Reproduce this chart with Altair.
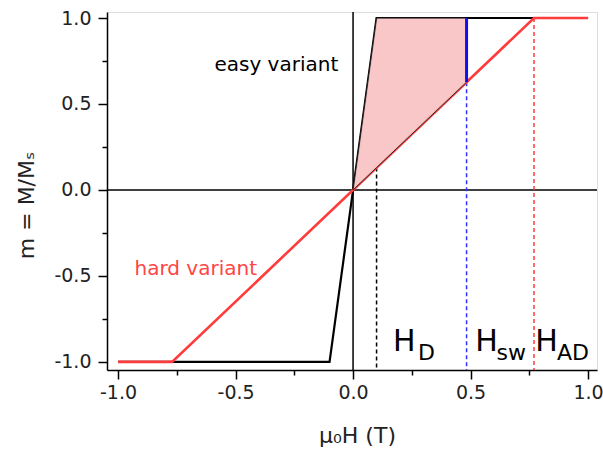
import altair as alt
import pandas as pd

# ---- data ----
tick_values = [-1.0, -0.75, -0.5, -0.25, 0.0, 0.25, 0.5, 0.75, 1.0]
x_domain = [-1.047, 1.038]
y_domain = [-1.047, 1.035]

easy_x = [-1.0, -0.1, 0.1, 1.0]
easy_y = [-1.0, -1.0, 1.0, 1.0]
hard_x = [-1.0, -0.77, 0.77, 1.0]
hard_y = [-1.0, -1.0, 1.0, 1.0]

shade_x = [0.0, 0.1, 0.483]
shade_top = [0.0, 1.0, 1.0]
shade_bottom = [0.0, 0.13, 0.627]

marker_x = [0.1, 0.483, 0.77]
marker_top = [0.13, 0.627, 1.0]
marker_name = ["D", "sw", "AD"]
marker_color = ["#000000", "#3030ff", "#ff3b3b"]

sw_x = [0.483]
sw_low = [0.627]
sw_high = [1.0]

labels_text = ["easy variant", "hard variant"]
labels_x = [-0.59, -0.93]
labels_y = [0.692, -0.494]
labels_color = ["#000000", "#ff4545"]

h_main_x = [0.17, 0.52, 0.775]
h_sub_x = [0.276, 0.61, 0.868]
h_sub = ["D", "sw", "AD"]
h_main_y = -0.936
h_sub_y = -0.988

FONT = "DejaVu Sans"

minor_test = "abs(datum.value * 2 - round(datum.value * 2)) > 0.001"
label_expr = ("abs(datum.value * 2 - round(datum.value * 2)) > 0.001 ? '' : "
              "(datum.value < 0 ? '-' : '') + format(abs(datum.value), '.1f')")


def make_axis(**kw):
    return alt.Axis(
        values=tick_values,
        labelExpr=label_expr,
        tickSize={"condition": {"test": minor_test, "value": 5}, "value": 9},
        tickColor="black",
        tickWidth=1.5,
        domainColor="black",
        domainWidth=1.5,
        labelFont=FONT,
        labelFontSize=19,
        labelColor="#222222",
        titleFont=FONT,
        titleFontSize=22,
        titleFontWeight="normal",
        titleColor="#222222",
        grid=False,
        **kw,
    )


xaxis = make_axis(title="μ₀H (T)", labelPadding=4, titleBaseline="alphabetic",
                  titleX=250, titleY=72)
yaxis = make_axis(title="m = M/Mₛ", labelPadding=7, titleBaseline="alphabetic",
                  titleX=-74, titleY=193)

xs = alt.Scale(domain=x_domain, nice=False, zero=False)
ys = alt.Scale(domain=y_domain, nice=False, zero=False)


def X(field):
    return alt.X(field, type="quantitative", scale=xs, axis=xaxis)


def Y(field):
    return alt.Y(field, type="quantitative", scale=ys, axis=yaxis)


easy_df = pd.DataFrame({"x": easy_x, "y": easy_y, "o": range(len(easy_x))})
hard_df = pd.DataFrame({"x": hard_x, "y": hard_y, "o": range(len(hard_x))})
shade_df = pd.DataFrame({"x": shade_x, "y": shade_top, "y2": shade_bottom})
marker_df = pd.DataFrame({"x": marker_x, "y": marker_top, "y2": [y_domain[0]] * 3,
                          "name": marker_name, "c": marker_color})
sw_df = pd.DataFrame({"x": sw_x, "y": sw_low, "y2": sw_high})
zero_df = pd.DataFrame({"v": [0.0]})
lab_df = pd.DataFrame({"x": labels_x, "y": labels_y, "t": labels_text, "c": labels_color})
hmain_df = pd.DataFrame({"x": h_main_x, "y": [h_main_y] * 3, "t": ["H"] * 3})
hsub_df = pd.DataFrame({"x": h_sub_x, "y": [h_sub_y] * 3, "t": h_sub})

zero_v = alt.Chart(zero_df).mark_rule(color="black", strokeWidth=1.5).encode(x=X("v"))
zero_h = alt.Chart(zero_df).mark_rule(color="black", strokeWidth=1.5).encode(y=Y("v"))

dashed = alt.Chart(marker_df).mark_rule(strokeWidth=1.5, strokeDash=[4, 3]).encode(
    x=X("x"), y=Y("y"), y2="y2", color=alt.Color("c:N", scale=None))

easy_line = alt.Chart(easy_df).mark_line(color="black", strokeWidth=2.2).encode(
    x=X("x"), y=Y("y"), order="o:Q")
hard_line = alt.Chart(hard_df).mark_line(color="#ff3b3b", strokeWidth=2.6).encode(
    x=X("x"), y=Y("y"), order="o:Q")

shade = alt.Chart(shade_df).mark_area(
    color="#f9c2c2", opacity=0.9, stroke="#222222", strokeWidth=1
).encode(x=X("x"), y=Y("y"), y2="y2")

sw_rule = alt.Chart(sw_df).mark_rule(color="#1010ee", strokeWidth=3).encode(
    x=X("x"), y=Y("y"), y2="y2")

labels = alt.Chart(lab_df).mark_text(font=FONT, fontSize=20, align="left",
                                     baseline="alphabetic").encode(
    x=X("x"), y=Y("y"), text="t:N", color=alt.Color("c:N", scale=None))

hmain = alt.Chart(hmain_df).mark_text(font=FONT, fontSize=30, align="left",
                                      baseline="alphabetic", color="black").encode(
    x=X("x"), y=Y("y"), text="t:N")
hsub = alt.Chart(hsub_df).mark_text(font=FONT, fontSize=22, align="left",
                                    baseline="alphabetic", color="black").encode(
    x=X("x"), y=Y("y"), text="t:N")

chart = alt.layer(
    zero_v, zero_h, dashed, easy_line, hard_line, shade, sw_rule, labels, hmain, hsub
).properties(
    width=490, height=358,
    autosize=alt.AutoSizeParams(type="none"),
    padding={"left": 107, "top": 12, "right": 6, "bottom": 80},
).configure_view(
    stroke="black", strokeWidth=1.5
).configure(background="white")

chart.save("out.html", embed_options={"renderer": "svg", "actions": False})
